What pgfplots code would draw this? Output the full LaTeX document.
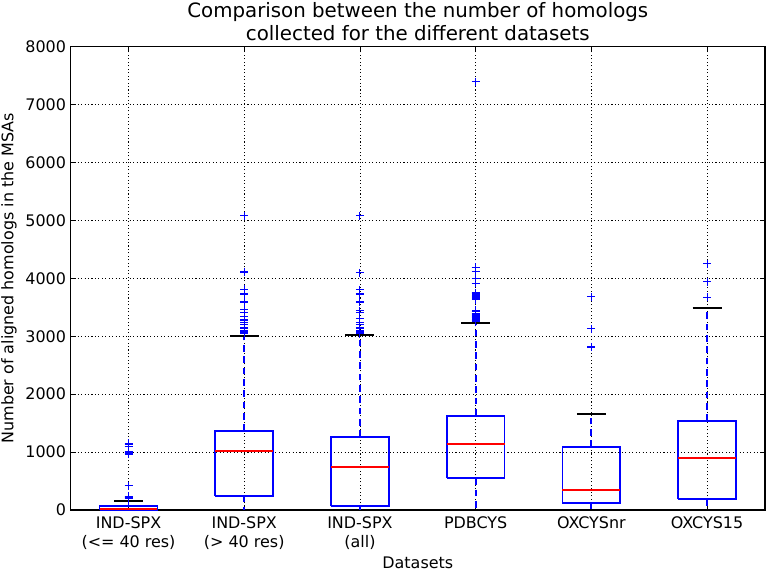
\documentclass[border=0pt]{standalone}
\usepackage{fontspec}
\setmainfont{DejaVu Sans}
\usepackage{pgfplots}
\pgfplotsset{compat=1.18}

\newcommand{\tfont}{\fontsize{12}{14.4}\selectfont}

\begin{document}
\begin{tikzpicture}
\begin{axis}[
  scale only axis,
  width=520.7bp, height=347.5bp,
  xmin=0.5, xmax=6.5, ymin=0, ymax=8000,
  xtick={1,2,3,4,5,6},
  xticklabels={{IND-SPX\\(<= 40 res)},{IND-SPX\\(> 40 res)},{IND-SPX\\(all)},PDBCYS,OXCYSnr,OXCYS15},
  ytick={0,1000,...,8000},
  tick align=inside,
  major tick length=4bp,
  every tick/.style={black, line width=0.5bp},
  axis line style={black, line width=1bp},
  grid=major,
  major grid style={black, line width=0.5bp, dash pattern=on 0.8bp off 1.8bp},
  xticklabel style={align=center, font=\tfont, anchor=north, inner sep=0pt, yshift=-5bp},
  yticklabel style={font=\tfont, /pgf/number format/1000 sep={}},
  /pgf/number format/assume math mode=true,
  title={Comparison between the number of homologs\\collected for the different datasets},
  title style={at={(axis description cs:0.5,1)}, anchor=south, align=center, inner sep=0pt, yshift=-1.5bp, font=\fontsize{14.9}{17}\selectfont},
  xlabel={Datasets},
  xlabel style={at={(axis description cs:0.5,0)}, anchor=base, inner sep=0pt, yshift=-43.7bp, font=\tfont},
  ylabel={Number of aligned homologs in the MSAs},
  ylabel style={at={(axis description cs:-0.0826,0.5)}, rotate=0, anchor=base, inner sep=0pt, font=\tfont},
  unbounded coords=jump,
  clip=false,
]
% whiskers (blue, dashed)
\addplot[blue, line width=1.3bp, dash pattern=on 5bp off 3.5bp] table {
x y
1 69
1 155
nan nan
1 5
1 0
nan nan
2 1364
2 3010
nan nan
2 247
2 0
nan nan
3 1261
3 3020
nan nan
3 74
3 0
nan nan
4 1629
4 3235
nan nan
4 547
4 0
nan nan
5 1088
5 1663
nan nan
5 126
5 0
nan nan
6 1537
6 3483
nan nan
6 190
6 0
};
% caps (black)
\addplot[black, line width=1.3bp] table {
x y
0.875 155
1.125 155
nan nan
0.875 0
1.125 0
nan nan
1.875 3010
2.125 3010
nan nan
2.875 3020
3.125 3020
nan nan
3.875 3235
4.125 3235
nan nan
4.875 1663
5.125 1663
nan nan
5.875 3483
6.125 3483
};
% boxes (blue)
\addplot[blue, line width=1.3bp] table {
x y
0.75 5
1.25 5
1.25 69
0.75 69
0.75 5
nan nan
1.75 247
2.25 247
2.25 1364
1.75 1364
1.75 247
nan nan
2.75 74
3.25 74
3.25 1261
2.75 1261
2.75 74
nan nan
3.75 547
4.25 547
4.25 1629
3.75 1629
3.75 547
nan nan
4.75 126
5.25 126
5.25 1088
4.75 1088
4.75 126
nan nan
5.75 190
6.25 190
6.25 1537
5.75 1537
5.75 190
};
% medians (red)
\addplot[red, line width=1.3bp] table {
x y
0.75 20
1.25 20
nan nan
1.75 1022
2.25 1022
nan nan
2.75 743
3.25 743
nan nan
3.75 1145
4.25 1145
nan nan
4.75 340
5.25 340
nan nan
5.75 903
6.25 903
};
% fliers
\addplot[only marks, mark=+, blue, mark size=3bp, mark options={line width=0.8bp}] table {
x y
1 200
1 210
1 220
1 230
1 240
1 420
1 967
1 990
1 1007
1 1090
1 1123
1 1150
2 3040
2 3060
2 3080
2 3100
2 3143
2 3195
2 3230
2 3281
2 3338
2 3414
2 3454
2 3592
2 3730
2 3811
2 4110
2 5077
3 3040
3 3074
3 3100
3 3143
3 3195
3 3230
3 3299
3 3403
3 3437
3 3592
3 3730
3 3800
3 4093
3 5077
4 3250
4 3270
4 3290
4 3315
4 3340
4 3360
4 3380
4 3400
4 3420
4 3445
4 3630
4 3650
4 3670
4 3690
4 3710
4 3730
4 3750
4 3915
4 3995
4 4120
4 4191
4 7392
5 2815
5 3126
5 3684
6 3673
6 3943
6 4254
};
\end{axis}
\pgfresetboundingbox
\path[use as bounding box] (-53bp,-45.75bp) rectangle (523bp,382.5bp);
\end{tikzpicture}
\end{document}
